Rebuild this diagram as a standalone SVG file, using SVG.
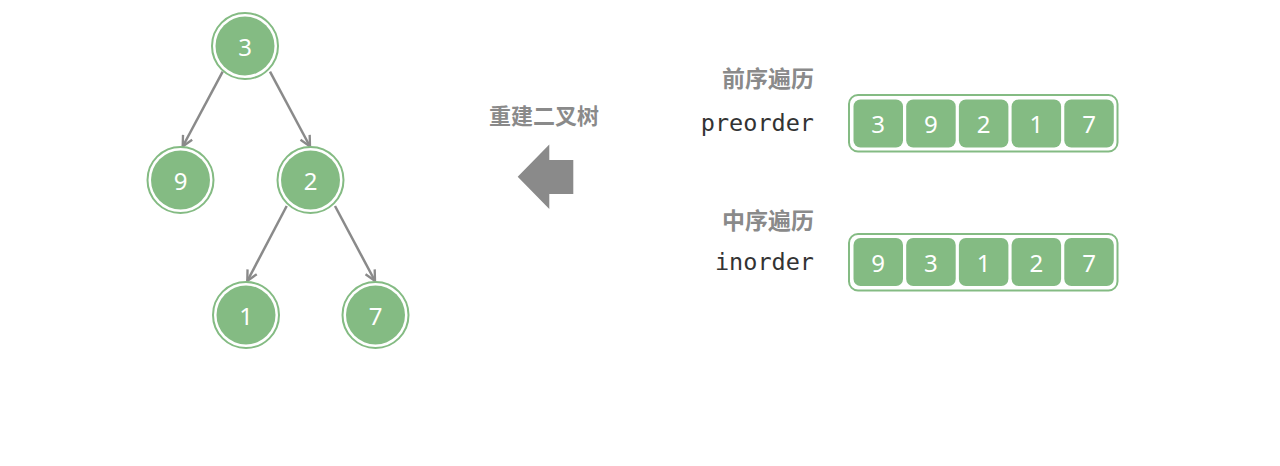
<svg xmlns="http://www.w3.org/2000/svg" width="1280" height="466" viewBox="0 0 1280 466">
<style>
.ring{fill:#ffffff;stroke:#84bb83;stroke-width:2}
.core{fill:#84bb83}
.num{font-family:"Noto Sans","Open Sans",sans-serif;font-size:24px;fill:#ffffff;text-anchor:middle;dominant-baseline:central}
.edge{stroke:#8a8a8a;stroke-width:2.5;fill:none}
.box{fill:#ffffff;stroke:#84bb83;stroke-width:2}
.cell{fill:#84bb83}
.zh{font-family:"Noto Sans CJK SC",sans-serif;font-size:23px;font-weight:bold;fill:#8a8a8a}
.mono{font-family:"DejaVu Sans Mono","Liberation Mono",monospace;font-size:23.5px;fill:#333333;text-anchor:end;dominant-baseline:central}
</style>
<defs>
<marker id="ah" viewBox="0 0 10 10" markerUnits="userSpaceOnUse" markerWidth="13" markerHeight="13" refX="9" refY="5" orient="auto">
<path d="M1,1 L9,5 L1,9" fill="none" stroke="#8a8a8a" stroke-width="1.8"/>
</marker>
</defs>
<rect width="1280" height="466" fill="#ffffff"/>
<g id="connectors">
<line class="edge" x1="222.7" y1="71.7" x2="182.7" y2="146.5" marker-end="url(#ah)"/>
<line class="edge" x1="270" y1="71.7" x2="310" y2="146.5" marker-end="url(#ah)"/>
<line class="edge" x1="286.7" y1="206" x2="247.3" y2="281" marker-end="url(#ah)"/>
<line class="edge" x1="335" y1="206" x2="375" y2="281" marker-end="url(#ah)"/>
</g>
<g id="node-3"><circle class="ring" cx="245" cy="46" r="33"/><circle class="core" cx="245" cy="46" r="29.5"/><text class="num" x="245" y="46">3</text></g>
<g id="node-9"><circle class="ring" cx="180.5" cy="180" r="33"/><circle class="core" cx="180.5" cy="180" r="29.5"/><text class="num" x="180.5" y="180">9</text></g>
<g id="node-2"><circle class="ring" cx="310.5" cy="180" r="33"/><circle class="core" cx="310.5" cy="180" r="29.5"/><text class="num" x="310.5" y="180">2</text></g>
<g id="node-1"><circle class="ring" cx="246" cy="315" r="33"/><circle class="core" cx="246" cy="315" r="29.5"/><text class="num" x="246" y="315">1</text></g>
<g id="node-7"><circle class="ring" cx="375.5" cy="315" r="33"/><circle class="core" cx="375.5" cy="315" r="29.5"/><text class="num" x="375.5" y="315">7</text></g>
<g id="rebuild">
<text class="zh" x="544" y="124" text-anchor="middle" style="font-size:22px">重建二叉树</text>
<polygon points="517.7,176.7 549.3,144.5 549.3,160 573.3,160 573.3,194 549.3,194 549.3,209 " fill="#8a8a8a"/>
</g>
<g id="preorder">
<text class="zh" x="814" y="87" text-anchor="end">前序遍历</text>
<text class="mono" x="814" y="123">preorder</text>
<rect class="box" x="849" y="95" width="268.5" height="56.5" rx="9"/>
<rect class="cell" x="853.5" y="99.5" width="49.5" height="48" rx="7"/><text class="num" x="878.2" y="123.5">3</text>
<rect class="cell" x="906.2" y="99.5" width="49.5" height="48" rx="7"/><text class="num" x="930.9" y="123.5">9</text>
<rect class="cell" x="958.9" y="99.5" width="49.5" height="48" rx="7"/><text class="num" x="983.6" y="123.5">2</text>
<rect class="cell" x="1011.6" y="99.5" width="49.5" height="48" rx="7"/><text class="num" x="1036.3" y="123.5">1</text>
<rect class="cell" x="1064.3" y="99.5" width="49.5" height="48" rx="7"/><text class="num" x="1089" y="123.5">7</text>
</g>
<g id="inorder">
<text class="zh" x="814" y="229" text-anchor="end">中序遍历</text>
<text class="mono" x="814" y="262">inorder</text>
<rect class="box" x="849" y="234" width="268.5" height="56.5" rx="9"/>
<rect class="cell" x="853.5" y="238" width="49.5" height="48" rx="7"/><text class="num" x="878.2" y="262">9</text>
<rect class="cell" x="906.2" y="238" width="49.5" height="48" rx="7"/><text class="num" x="930.9" y="262">3</text>
<rect class="cell" x="958.9" y="238" width="49.5" height="48" rx="7"/><text class="num" x="983.6" y="262">1</text>
<rect class="cell" x="1011.6" y="238" width="49.5" height="48" rx="7"/><text class="num" x="1036.3" y="262">2</text>
<rect class="cell" x="1064.3" y="238" width="49.5" height="48" rx="7"/><text class="num" x="1089" y="262">7</text>
</g>
</svg>
